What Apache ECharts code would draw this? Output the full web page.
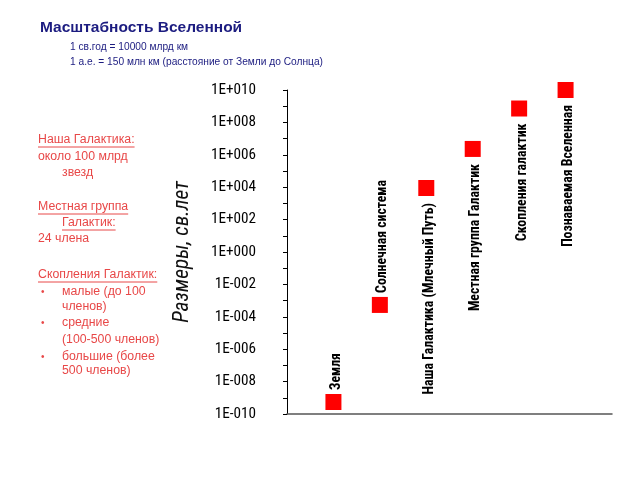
<!DOCTYPE html>
<html>
<head>
<meta charset="utf-8">
<script src="https://cdn.jsdelivr.net/npm/echarts@6/dist/echarts.min.js"></script>
<style>
html,body{margin:0;padding:0;background:#fff;}
#chart{width:640px;height:480px;}
</style>
</head>
<body>
<div id="chart"></div>
<script>
// ---- data ----
var categories = ['Земля', 'Солнечная система', 'Наша Галактика (Млечный Путь)', 'Местная группа Галактик', 'Скопления галактик', 'Познаваемая Вселенная'];
var sizesLy = [5.5e-10, 5.4e-4, 8.9e3, 2.3e6, 7.2e8, 1e10];
var yTickExponents = [-10, -8, -6, -4, -2, 0, 2, 4, 6, 8, 10];
var titleText = 'Масштабность Вселенной';
var subtitleLines = ['1 св.год = 10000 млрд км', '1 а.е. = 150 млн км (расстояние от Земли до Солнца)'];
var axisName = 'Размеры, св.лет';
// side notes: [text, underline, indent]
var noteLines = [
  ['Наша Галактика:', true, 0],
  ['около 100 млрд', false, 0],
  ['звезд', false, 1],
  ['Местная группа', true, 0],
  ['Галактик:', true, 1],
  ['24 члена', false, 0],
  ['Скопления Галактик:', true, 0],
  ['малые (до 100', false, 2],
  ['членов)', false, 1],
  ['средние', false, 2],
  ['(100-500 членов)', false, 1],
  ['большие (более', false, 2],
  ['500 членов)', false, 1]
];
var noteY = [140, 157, 173, 207, 223, 239, 275, 292, 307, 323, 340, 357, 371];

function fmtExp(e) {
  var a = Math.abs(Math.round(e));
  var s = ('000' + a).slice(-3);
  return '1E' + (e < 0 ? '-' : '+') + s;
}

// ---- font helpers ----
var mc = document.createElement('canvas').getContext('2d');
function textW(font, t) { mc.font = font; return mc.measureText(t).width; }
function hasFont(name) {
  var t = 'абвгдеЖЗИК mmmwwwlli 0123456789';
  var bases = ['monospace', 'serif'];
  for (var i = 0; i < bases.length; i++) {
    if (textW('40px ' + bases[i], t) !== textW("40px '" + name + "', " + bases[i], t)) return true;
  }
  return false;
}
var narrowFam = "'Liberation Sans', sans-serif";
var stretch = '';
(function pickNarrow() {
  var named = ['Liberation Sans Narrow', 'Arial Narrow', 'Roboto Condensed', 'Noto Sans Condensed', 'DejaVu Sans Condensed'];
  for (var i = 0; i < named.length; i++) {
    if (hasFont(named[i])) { narrowFam = "'" + named[i] + "', sans-serif"; return; }
  }
  var fams = ["'Noto Sans'", "'DejaVu Sans'", "'Open Sans'", "Roboto", "Inter", "'Liberation Sans'"];
  var t = 'Наша Галактика (Млечный Путь) 1E+010';
  var stretches = ['condensed', 'semi-condensed'];
  for (var s = 0; s < stretches.length; s++) {
    for (var j = 0; j < fams.length; j++) {
      var n = textW('bold 100px ' + fams[j], t);
      var c = textW(stretches[s] + ' bold 100px ' + fams[j], t);
      if (c < 0.95 * n) { narrowFam = fams[j] + ', sans-serif'; stretch = stretches[s]; return; }
    }
  }
})();
function fitSize(prefix, text, target) {
  var w = textW(prefix + ' ' + stretch + ' 100px ' + narrowFam, text);
  return Math.round(100 * target / w * 10) / 10;
}
var catFontSize = Math.min(16, fitSize('bold', categories[2], 192));
var yLabFontSize = Math.min(16, fitSize('normal', '1E+010', 45));
var nameFontSize = Math.min(22, fitSize('italic', axisName, 142));

var chart = echarts.init(document.getElementById('chart'), null, {renderer: 'canvas'});

var seriesData = sizesLy.map(function (v, i) {
  var top = i < 2;
  return {
    value: [i + 1, Math.log10(v)],
    name: categories[i],
    label: {
      show: true,
      formatter: categories[i],
      position: top ? 'top' : 'bottom',
      distance: top ? 4 : 7,
      offset: [0, 3],
      rotate: 90,
      align: top ? 'left' : 'right',
      verticalAlign: 'middle',
      fontFamily: narrowFam,
      fontStyle: ('normal ' + stretch).trim(),
      fontWeight: 'bold',
      fontSize: catFontSize,
      color: '#000'
    }
  };
});

var noteFont = "12.3px 'Liberation Sans', Arial, sans-serif";
var noteColor = '#e84848';
var navy = '#1c1c80';
var graphics = [];
graphics.push({type: 'text', left: 40, top: 20, style: {text: titleText, font: "bold 15.5px 'Liberation Sans', Arial, sans-serif", fill: navy}});
subtitleLines.forEach(function (t, i) {
  graphics.push({type: 'text', left: 70, top: 42 + i * 15, style: {text: t, font: "10.2px 'Liberation Sans', Arial, sans-serif", fill: navy}});
});
noteLines.forEach(function (ln, i) {
  var x = ln[2] === 0 ? 38 : 62;
  var y = noteY[i];
  graphics.push({type: 'text', x: x, y: y, style: {text: ln[0], font: noteFont, fill: noteColor, textVerticalAlign: 'middle'}});
  if (ln[1]) {
    var w = textW(noteFont, ln[0]);
    graphics.push({type: 'line', shape: {x1: x, y1: y + 7, x2: x + w, y2: y + 7}, style: {stroke: noteColor, lineWidth: 1}});
  }
  if (ln[2] === 2) {
    graphics.push({type: 'text', x: 41, y: y, style: {text: '•', font: "10px 'Liberation Sans', sans-serif", fill: noteColor, textVerticalAlign: 'middle'}});
  }
});

chart.setOption({
  animation: false,
  grid: {left: 287, right: 28, top: 90, bottom: 66},
  xAxis: {
    type: 'value', min: 0, max: 7,
    axisLine: {show: true, onZero: false, lineStyle: {color: '#555', width: 1.5}},
    axisTick: {show: false}, axisLabel: {show: false}, splitLine: {show: false}
  },
  yAxis: {
    type: 'value', min: -10, max: 10, interval: 2,
    offset: 17,
    name: axisName,
    nameLocation: 'middle',
    nameGap: 77,
    nameRotate: 90,
    nameTextStyle: {fontFamily: narrowFam, fontStyle: ('italic ' + stretch).trim(), fontSize: nameFontSize, color: '#111'},
    axisLine: {show: true, lineStyle: {color: '#000', width: 1}},
    axisTick: {show: true, length: 4, lineStyle: {color: '#000'}},
    minorTick: {show: true, splitNumber: 2, length: 4, lineStyle: {color: '#000'}},
    splitLine: {show: false},
    axisLabel: {
      margin: 14,
      fontFamily: narrowFam,
      fontStyle: ('normal ' + stretch).trim(),
      fontSize: yLabFontSize, color: '#000',
      formatter: function (v) { return yTickExponents.indexOf(v) >= 0 ? fmtExp(v) : ''; }
    }
  },
  series: [{
    type: 'scatter',
    symbol: 'rect',
    symbolSize: 16,
    itemStyle: {color: '#ff0000', opacity: 1},
    data: seriesData
  }],
  graphic: graphics
});
</script>
</body>
</html>
